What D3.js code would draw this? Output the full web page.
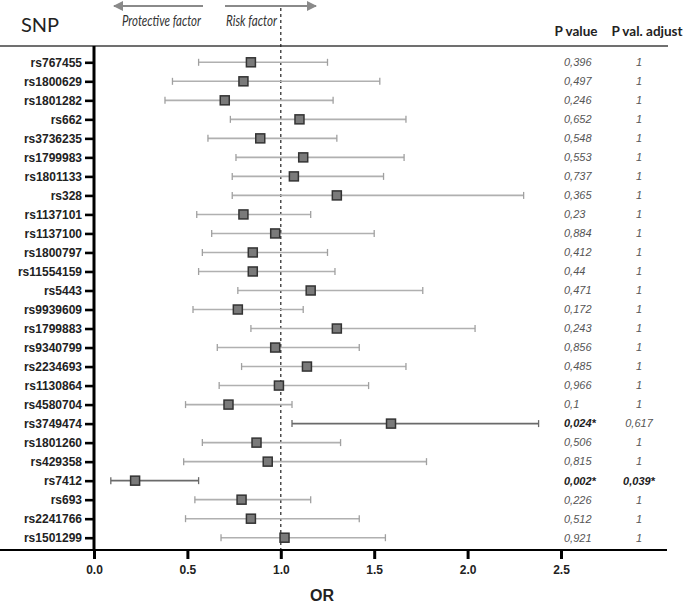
<!DOCTYPE html>
<html>
<head>
<meta charset="utf-8">
<script src="https://cdn.jsdelivr.net/npm/d3@7"></script>
<style>
  html, body { margin: 0; padding: 0; background: #fff; }
  svg { display: block; }
</style>
</head>
<body>
<svg id="chart" width="685" height="603"></svg>
<script>
const snps = ["rs767455","rs1800629","rs1801282","rs662","rs3736235","rs1799983","rs1801133","rs328","rs1137101","rs1137100","rs1800797","rs11554159","rs5443","rs9939609","rs1799883","rs9340799","rs2234693","rs1130864","rs4580704","rs3749474","rs1801260","rs429358","rs7412","rs693","rs2241766","rs1501299"];
const orValues = [0.84,0.80,0.70,1.10,0.89,1.12,1.07,1.30,0.80,0.97,0.85,0.85,1.16,0.77,1.30,0.97,1.14,0.99,0.72,1.59,0.87,0.93,0.22,0.79,0.84,1.02];
const ciLower = [0.56,0.42,0.38,0.73,0.61,0.76,0.74,0.74,0.55,0.63,0.58,0.56,0.77,0.53,0.84,0.66,0.79,0.67,0.49,1.06,0.58,0.48,0.09,0.54,0.49,0.68];
const ciUpper = [1.25,1.53,1.28,1.67,1.30,1.66,1.55,2.30,1.16,1.50,1.25,1.29,1.76,1.12,2.04,1.42,1.67,1.47,1.06,2.38,1.32,1.78,0.56,1.16,1.42,1.56];
const pValues = ["0,396","0,497","0,246","0,652","0,548","0,553","0,737","0,365","0,23","0,884","0,412","0,44","0,471","0,172","0,243","0,856","0,485","0,966","0,1","0,024*","0,506","0,815","0,002*","0,226","0,512","0,921"];
const pAdjusted = ["1","1","1","1","1","1","1","1","1","1","1","1","1","1","1","1","1","1","1","0,617","1","1","0,039*","1","1","1"];
const pSignificant = [0,0,0,0,0,0,0,0,0,0,0,0,0,0,0,0,0,0,0,1,0,0,1,0,0,0];
const adjSignificant = [0,0,0,0,0,0,0,0,0,0,0,0,0,0,0,0,0,0,0,0,0,0,1,0,0,0];
const xTicks = [0, 0.5, 1.0, 1.5, 2.0, 2.5];

const svg = d3.select("#chart");
const x = d3.scaleLinear().domain([0, 2.5]).range([94, 561]);
const y = d3.scalePoint().domain(snps).range([62.3, 537.7]);
const axisY0 = 46, axisY1 = 550;

const data = snps.map((s, i) => ({snp: s, or: orValues[i], lo: ciLower[i], hi: ciUpper[i],
  p: pValues[i], padj: pAdjusted[i], sig: pSignificant[i], adjSig: adjSignificant[i]}));

// header line
svg.append("line").attr("x1", 0).attr("x2", 668).attr("y1", axisY0).attr("y2", axisY0)
  .attr("stroke", "#707070").attr("stroke-width", 2);

// arrows
const defs = svg.append("defs");
defs.append("marker").attr("id", "ah").attr("viewBox", "0 0 10 10").attr("refX", 9).attr("refY", 5)
  .attr("markerWidth", 5).attr("markerHeight", 5).attr("orient", "auto-start-reverse")
  .append("path").attr("d", "M0,0 L10,5 L0,10 z").attr("fill", "#8a8a8a");
svg.append("line").attr("x1", 203).attr("x2", 114).attr("y1", 6).attr("y2", 6)
  .attr("stroke", "#8a8a8a").attr("stroke-width", 2).attr("marker-end", "url(#ah)");
svg.append("line").attr("x1", 225).attr("x2", 316).attr("y1", 6).attr("y2", 6)
  .attr("stroke", "#8a8a8a").attr("stroke-width", 2).attr("marker-end", "url(#ah)");

svg.append("text").attr("x", 122).attr("y", 26)
  .attr("font-family", "Lato, 'Open Sans', sans-serif").attr("font-style", "italic").attr("font-size", 14.5)
  .attr("textLength", 79).attr("lengthAdjust", "spacingAndGlyphs")
  .attr("fill", "#333").text("Protective factor");
svg.append("text").attr("x", 226).attr("y", 26)
  .attr("font-family", "Lato, 'Open Sans', sans-serif").attr("font-style", "italic").attr("font-size", 14.5)
  .attr("textLength", 51).attr("lengthAdjust", "spacingAndGlyphs")
  .attr("fill", "#333").text("Risk factor");

svg.append("text").attr("x", 21).attr("y", 32)
  .attr("font-family", "Lato, 'Open Sans', sans-serif").attr("font-size", 20)
  .attr("fill", "#222").text("SNP");
svg.append("text").attr("x", 576).attr("y", 36).attr("text-anchor", "middle")
  .attr("font-family", "Lato, 'Open Sans', sans-serif").attr("font-weight", "bold").attr("font-size", 13.5)
  .attr("fill", "#222").text("P value");
svg.append("text").attr("x", 647).attr("y", 36).attr("text-anchor", "middle")
  .attr("font-family", "Lato, 'Open Sans', sans-serif").attr("font-weight", "bold").attr("font-size", 13.5)
  .attr("fill", "#222").text("P val. adjust");

// reference line at OR = 1
svg.append("line").attr("x1", x(1)).attr("x2", x(1)).attr("y1", 8).attr("y2", axisY1)
  .attr("stroke", "#222").attr("stroke-width", 1.2).attr("stroke-dasharray", "3,3");

// error bars
const bars = svg.append("g").selectAll("g").data(data).join("g");
bars.append("line").attr("x1", d => x(d.lo)).attr("x2", d => x(d.hi))
  .attr("y1", d => y(d.snp)).attr("y2", d => y(d.snp))
  .attr("stroke", d => d.sig ? "#6a6a6a" : "#b0b0b0").attr("stroke-width", 1.6);
bars.append("line").attr("x1", d => x(d.lo)).attr("x2", d => x(d.lo))
  .attr("y1", d => y(d.snp) - 3.5).attr("y2", d => y(d.snp) + 3.5)
  .attr("stroke", d => d.sig ? "#6a6a6a" : "#a0a0a0").attr("stroke-width", 1.3);
bars.append("line").attr("x1", d => x(d.hi)).attr("x2", d => x(d.hi))
  .attr("y1", d => y(d.snp) - 3.5).attr("y2", d => y(d.snp) + 3.5)
  .attr("stroke", d => d.sig ? "#6a6a6a" : "#a0a0a0").attr("stroke-width", 1.3);
bars.append("rect").attr("x", d => x(d.or) - 4.5).attr("y", d => y(d.snp) - 4.5)
  .attr("width", 9).attr("height", 9)
  .attr("fill", "#7a7a7a").attr("stroke", "#333").attr("stroke-width", 1.5);

// p value columns
svg.append("g").selectAll("text").data(data).join("text")
  .attr("x", 564).attr("y", d => y(d.snp)).attr("dy", "0.35em")
  .attr("font-family", "'Liberation Sans', Arial, sans-serif").attr("font-style", "italic")
  .attr("font-size", 11).attr("font-weight", d => d.sig ? "bold" : "normal")
  .attr("fill", d => d.sig ? "#222" : "#555").text(d => d.p);
svg.append("g").selectAll("text").data(data).join("text")
  .attr("x", 639).attr("y", d => y(d.snp)).attr("dy", "0.35em").attr("text-anchor", "middle")
  .attr("font-family", "'Liberation Sans', Arial, sans-serif").attr("font-style", "italic")
  .attr("font-size", 11).attr("font-weight", d => d.adjSig ? "bold" : "normal")
  .attr("fill", d => d.adjSig ? "#222" : "#555").text(d => d.padj);

// y axis
const gy = svg.append("g").attr("transform", "translate(94,0)")
  .call(d3.axisLeft(y).tickSize(9).tickPadding(3));
gy.select(".domain").remove();
gy.selectAll(".tick line").attr("stroke", "#000").attr("stroke-width", 2.6);
gy.selectAll(".tick text").attr("font-family", "'Liberation Sans', Arial, sans-serif")
  .attr("font-weight", "bold").attr("font-size", 12).attr("fill", "#222");
svg.append("line").attr("x1", 94).attr("x2", 94).attr("y1", axisY0).attr("y2", axisY1 + 1)
  .attr("stroke", "#000").attr("stroke-width", 3);

// x axis
const gx = svg.append("g").attr("transform", `translate(0,${axisY1})`)
  .call(d3.axisBottom(x).tickValues(xTicks).tickFormat(d3.format(".1f")).tickSize(9).tickPadding(6));
gx.select(".domain").remove();
gx.selectAll(".tick line").attr("stroke", "#000").attr("stroke-width", 3);
gx.selectAll(".tick text").attr("font-family", "'Liberation Sans', Arial, sans-serif")
  .attr("font-weight", "bold").attr("font-size", 12).attr("fill", "#222");
svg.append("line").attr("x1", 0).attr("x2", 667).attr("y1", axisY1).attr("y2", axisY1)
  .attr("stroke", "#000").attr("stroke-width", 2);

svg.append("text").attr("x", 322).attr("y", 601).attr("text-anchor", "middle")
  .attr("font-family", "'Liberation Sans', Arial, sans-serif").attr("font-weight", "bold")
  .attr("font-size", 16).attr("fill", "#222").text("OR");
</script>
</body>
</html>
